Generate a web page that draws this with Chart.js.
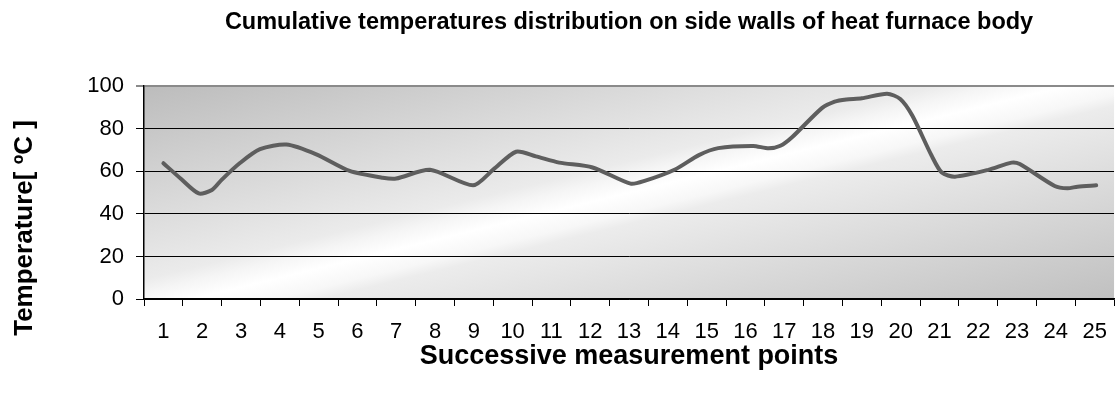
<!DOCTYPE html>
<html>
<head>
<meta charset="utf-8">
<script src="https://cdn.jsdelivr.net/npm/chart.js@4/dist/chart.umd.min.js"></script>
<style>
  html, body { margin: 0; padding: 0; background: #fff; }
  #wrap { width: 1120px; height: 399px; }
</style>
</head>
<body>
<div id="wrap"><canvas id="chart" width="1120" height="399"></canvas></div>
<script>
// measurement points shown on the axis
const categories = ['1','2','3','4','5','6','7','8','9','10','11','12','13','14','15','16','17','18','19','20','21','22','23','24','25'];
// where each vertex of the curve sits along the axis (in measurement point units)
const positions = [1.0, 1.45, 1.91, 2.25, 2.5, 2.98, 3.49, 4.17, 4.94, 5.8, 6.65, 7.0, 7.87, 8.98, 9.5, 10.09, 10.6, 11.2, 12.06, 13.04, 13.4, 14.2, 14.8, 15.3, 16.2, 16.6, 16.9, 17.2, 17.97, 18.3, 18.6, 19.0, 19.65, 19.99, 20.3, 20.8, 21.06, 21.4, 22.26, 22.86, 23.07, 23.97, 24.3, 24.56, 25.04];
// temperatures, in degrees C
const temperatures = [63.8, 56.5, 49.6, 51.2, 56, 64, 70.4, 72.6, 68, 60.2, 57, 56.6, 60.7, 53.4, 60.8, 69.2, 67, 64.1, 61.8, 54.2, 55.5, 61, 67.6, 70.9, 71.9, 70.8, 72, 76, 89.7, 92.8, 93.8, 94.3, 96.5, 94, 86.2, 67.3, 59.4, 57.5, 60.7, 64.1, 63.4, 53.1, 52, 52.8, 53.4];
const yTicks = [0, 20, 40, 60, 80, 100];

const FONT = "'Liberation Sans', Arial, Helvetica, sans-serif";

// plot area fill: grey corners with a white diagonal streak
const plotBackground = {
    id: 'plotBackground',
    beforeDraw: function (chart) {
        const a = chart.chartArea;
        const ctx = chart.ctx;
        const w = a.right - a.left, h = a.bottom - a.top;
        const cx = a.left + w / 2, cy = a.top + h / 2;
        let nx = h, ny = 0.9 * w;
        const len = Math.sqrt(nx * nx + ny * ny);
        nx /= len; ny /= len;
        const half = Math.abs(nx * w / 2) + Math.abs(ny * h / 2);
        const g = ctx.createLinearGradient(cx - half * nx, cy - half * ny, cx + half * nx, cy + half * ny);
        g.addColorStop(0, '#bcbcbc');
        g.addColorStop(0.43, '#ebebeb');
        g.addColorStop(0.46, '#f5f5f5');
        g.addColorStop(0.5, '#ffffff');
        g.addColorStop(0.545, '#f7f7f7');
        g.addColorStop(0.57, '#ececec');
        g.addColorStop(1, '#c0c0c0');
        ctx.save();
        ctx.fillStyle = g;
        ctx.fillRect(a.left, a.top, w, h);
        ctx.restore();
    }
};

// y axis title sits a bit below the middle in the original
const yTitle = {
    id: 'yTitle',
    afterDraw: function (chart) {
        const ctx = chart.ctx;
        ctx.save();
        ctx.translate(25, 228);
        ctx.rotate(-Math.PI / 2);
        ctx.font = 'bold 26px ' + FONT;
        ctx.fillStyle = '#000';
        ctx.textAlign = 'center';
        ctx.textBaseline = 'middle';
        ctx.fillText('Temperature[ ºC ]', 0, 0);
        ctx.restore();
    }
};

new Chart(document.getElementById('chart'), {
    type: 'line',
    data: {
        labels: categories,
        datasets: [{
            label: 'Temperature',
            data: positions.map((p, i) => ({ x: p, y: temperatures[i] })),
            xAxisID: 'xd',
            borderColor: '#5e5e5e',
            borderWidth: 4,
            borderCapStyle: 'round',
            borderJoinStyle: 'round',
            pointRadius: 0,
            tension: 0.25,
            fill: false
        }]
    },
    options: {
        responsive: false,
        animation: false,
        layout: { padding: { left: 0, right: 2, top: 0, bottom: 0 } },
        plugins: {
            legend: { display: false },
            tooltip: { enabled: false },
            title: {
                display: true,
                fullSize: false,
                text: 'Cumulative temperatures distribution on side walls of heat furnace body',
                color: '#000',
                font: { family: FONT, size: 23.5, weight: 'bold' },
                padding: { top: 8, bottom: 50 }
            }
        },
        scales: {
            xd: {
                type: 'linear',
                display: false,
                min: 0.5,
                max: 25.5
            },
            x: {
                type: 'category',
                offset: true,
                grid: {
                    offset: true,
                    drawOnChartArea: false,
                    drawTicks: true,
                    tickLength: 7,
                    color: '#000',
                    lineWidth: 1
                },
                border: { color: '#000', width: 1.5 },
                ticks: {
                    color: '#000',
                    font: { family: FONT, size: 22 },
                    padding: 13,
                    maxRotation: 0,
                    autoSkip: false
                },
                title: {
                    display: true,
                    text: 'Successive measurement points',
                    color: '#000',
                    font: { family: FONT, size: 27, weight: 'bold' },
                    padding: { top: 0, bottom: 26 }
                },
                afterFit: function (scale) { scale.height = 100; }
            },
            y: {
                min: 0,
                max: 100,
                afterBuildTicks: function (scale) {
                    scale.ticks = yTicks.map(v => ({ value: v }));
                },
                grid: {
                    color: ctx => ctx.tick && ctx.tick.value === 100 ? '#8a8a8a' : '#000',
                    lineWidth: ctx => ctx.tick && ctx.tick.value === 100 ? 2 : 1,
                    tickLength: 8,
                    drawTicks: true
                },
                border: { color: '#000', width: 1.5 },
                ticks: {
                    color: '#000',
                    font: { family: FONT, size: 22 },
                    padding: 12
                },
                afterFit: function (scale) { scale.width = 144; }
            }
        }
    },
    plugins: [plotBackground, yTitle]
});
</script>
</body>
</html>
